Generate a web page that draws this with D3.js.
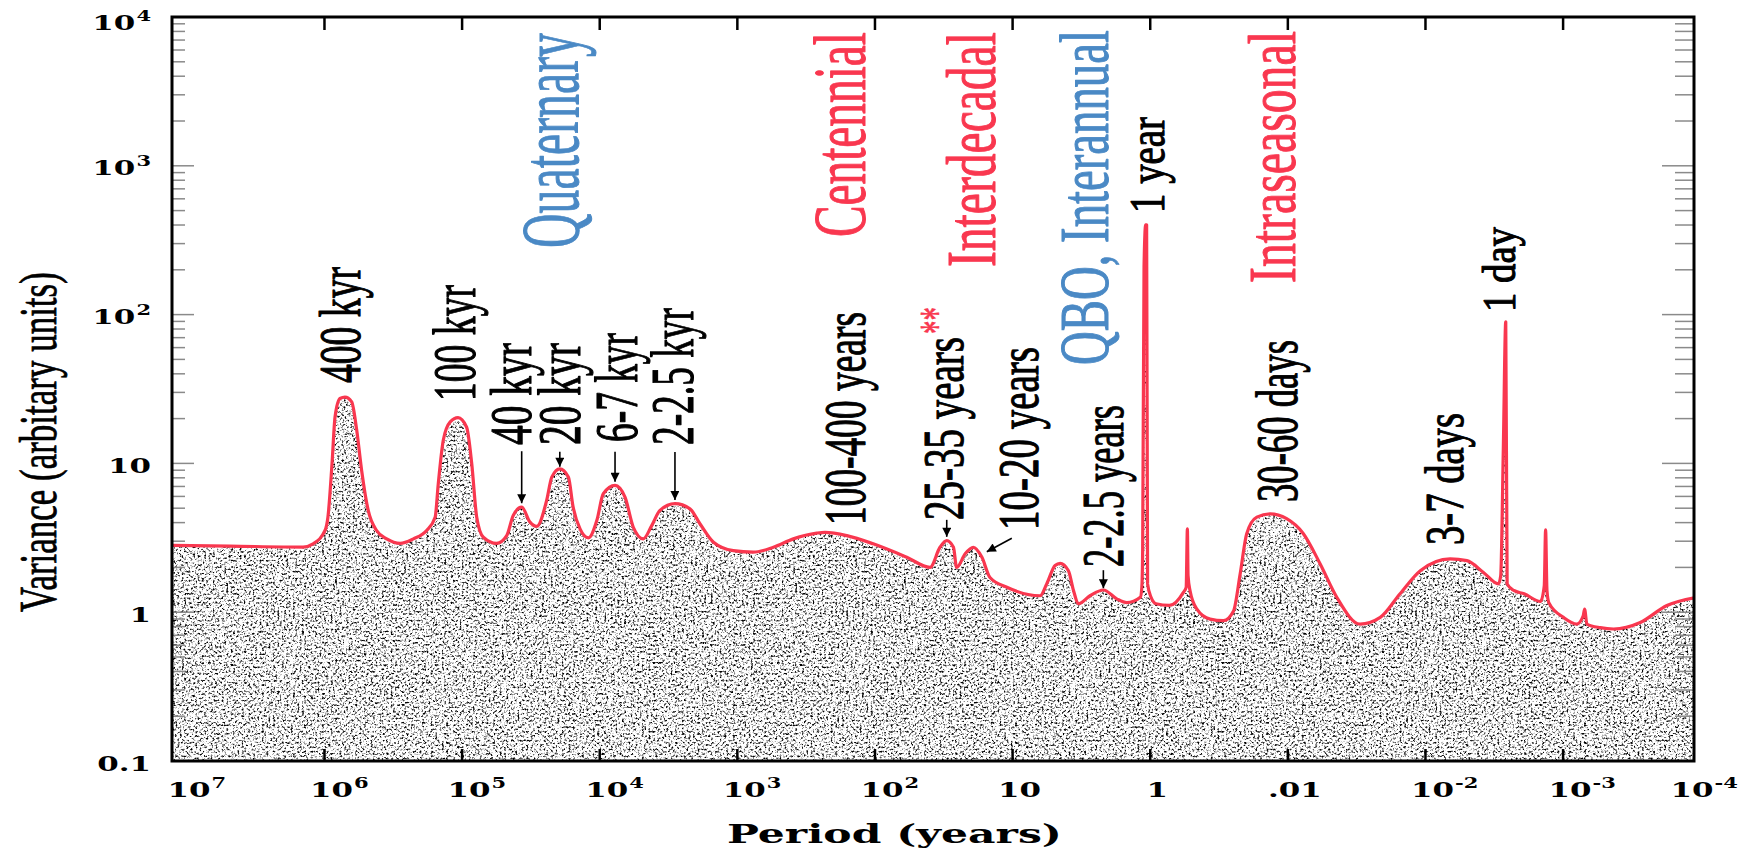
<!DOCTYPE html>
<html><head><meta charset="utf-8">
<script src="https://cdn.jsdelivr.net/npm/d3@7"></script>
<style>html,body{margin:0;padding:0;background:#fff;}svg{display:block;}</style>
</head><body>
<svg id="chart" width="1756" height="851"></svg>
<script>
// ---------------- DATA ----------------
// Spectrum (period in years, variance in arbitrary units)
const periods = [1.28e7,4.86e6,1.43e6,1.21e6,9.91e5,9.44e5,8.81e5,8.38e5,7.71e5,7.10e5,6.34e5,5.83e5,5.37e5,4.81e5,4.18e5,3.53e5,2.82e5,2.26e5,1.81e5,1.57e5,1.49e5,1.37e5,1.22e5,1.07e5,9.27e4,8.51e4,7.83e4,7.01e4,5.61e4,4.74e4,4.25e4,3.69e4,3.21e4,2.87e4,2.43e4,2.23e4,1.95e4,1.69e4,1.56e4,1.39e4,1.21e4,1.05e4,9420,7740,6550,5700,4820,4190,3650,2840,2210,1870,1490,1070,766,547,392,265,231,160,103,58.7,39.8,33.7,30.1,26.9,25.5,22.1,19.3,16.7,14.6,11.0,6.31,5.65,4.91,4.52,3.93,3.61,3.33,2.74,2.19,1.75,1.48,1.18,1.151,1.135,1.109,1.079,1.062,1.045,0.986,0.908,0.726,0.574,0.548,0.537,0.531,0.514,0.458,0.367,0.294,0.248,0.222,0.199,0.168,0.135,0.102,0.0771,0.0582,0.0441,0.0299,0.0213,0.0153,0.0109,0.00662,0.00500,0.00379,0.00295,0.00284,0.00272,0.00261,0.00255,0.00228,0.00192,0.00146,0.00137,0.00134,0.00131,0.00127,0.000993,0.000794,0.000714,0.000698,0.000671,0.000537,0.000430,0.000275,0.000176,0.000111];
const variances = [2.81,2.78,2.74,2.88,3.54,4.35,10.0,20.5,27.3,27.9,25.9,16.7,8.97,4.83,3.54,3.11,2.90,3.11,3.54,4.35,7.29,14.3,19.0,20.3,17.5,9.95,4.35,3.19,2.90,3.27,4.47,5.08,4.03,3.77,5.64,8.09,9.20,8.09,5.08,3.63,3.16,4.13,6.25,7.11,5.93,3.72,3.11,3.82,4.83,5.36,4.95,3.93,2.95,2.59,2.53,2.73,3.11,3.40,3.44,3.27,2.88,2.34,2.00,2.73,3.03,2.73,2.00,2.47,2.73,2.34,1.71,1.47,1.29,1.55,2.06,2.13,1.90,1.40,1.14,1.29,1.41,1.23,1.16,1.26,1.47,2.59,210,401,401,1.55,1.26,1.14,1.11,1.36,1.47,3.63,1.76,1.40,1.05,0.899,0.877,1.02,1.81,3.37,4.35,4.58,4.25,3.37,2.11,1.26,0.832,0.923,1.33,1.90,2.28,2.22,1.85,1.55,1.76,12.2,89.5,1.55,1.40,1.33,1.18,1.51,3.57,1.40,1.16,0.923,0.832,0.946,1.05,0.832,0.787,0.771,0.853,1.11,1.25];

const xTickValues = [1e6,1e5,1e4,1e3,1e2,10,1,0.1,0.01,0.001];
const xLabelValues = [1e7,1e6,1e5,1e4,1e3,1e2,10,1,0.1,0.01,0.001,1e-4];
const xLabelBase = ["10","10","10","10","10","10","10","1",".01","10","10","10"];
const xLabelSup  = ["7","6","5","4","3","2","","","","-2","-3","-4"];
const yLabelValues = [0.1,1,10,100,1000,10000];
const yLabelBase = ["0.1","1","10","10","10","10"];
const yLabelSup  = ["","","","2","3","4"];

const peakLabels = ["400 kyr","100 kyr","40 kyr","20 kyr","6-7 kyr","2-2.5 kyr","100-400 years","25-35 years","10-20 years","2-2.5 years","1 year","30-60 days","3-7 days","1 day"];
const regimeLabels = ["Quaternary","Centennial","Interdecadal","QBO, Interannual","Intraseasonal"];
const regimeKinds  = ["blue","red","red","blue","red"];
// arrow tips (period, variance)
const arrowPeriods   = [3.69e4,1.95e4,7740,2840,30.1,15.4,2.19];
const arrowVariances = [5.40,9.51,7.53,5.68,3.21,2.55,1.45];

// ---------------- LAYOUT / STYLE ----------------
const L=172,R=1694,T=17,B=761;
const RED="#f9374f", BLUE="#4a89c5";
const SERIF="Liberation Serif";
// [baselineX, startY, length, fontSize]
const peakLayout = [[360,383,116,60],[475,401,116,62],[531,445,102,60],[580,445,102,62],[637,442,109,62],[693,445,137,62],
  [865,525,213,60],[963,520,183,58],[1038,530,183,58],[1123,567,162,60],[1164,213,96,50],[1297,502,162,60],[1463,545,132,54],[1515,312,85,46]];
const regimeLayout = [[578,248,215,82],[865,237,205,73],[995,267,235,70],[1108,365,335,70],[1295,283,252,68]];
const arrowTail = [[0,-52],[0,-15],[0,-30],[0,-48],[0,-17],[25,-13.4],[0,-18]];

const svg = d3.select("#chart");
const x = d3.scaleLog().domain([1.282e7,1.119e-4]).range([L,R]);
const y = d3.scaleLog().domain([0.1,1e4]).range([B,T]);

const defs = svg.append("defs");
const f = defs.append("filter").attr("id","stipple").attr("filterUnits","userSpaceOnUse")
  .attr("x",L).attr("y",T).attr("width",R-L).attr("height",B-T)
  .attr("color-interpolation-filters","sRGB");
f.append("feTurbulence").attr("type","fractalNoise").attr("baseFrequency","0.45").attr("numOctaves",3).attr("seed",11).attr("result","n");
f.append("feColorMatrix").attr("in","n").attr("type","matrix")
  .attr("values","3.8 0 0 0 -0.89  3.8 0 0 0 -0.89  3.8 0 0 0 -0.89  0 0 0 0 1").attr("result","g");
f.append("feComposite").attr("in","g").attr("in2","SourceGraphic").attr("operator","in");

defs.append("clipPath").attr("id","plotclip").append("rect").attr("x",L).attr("y",T).attr("width",R-L).attr("height",B-T);
defs.append("marker").attr("id","ah").attr("markerUnits","userSpaceOnUse")
  .attr("viewBox","0 0 10 10").attr("refX",10).attr("refY",5)
  .attr("markerWidth",10).attr("markerHeight",9).attr("orient","auto")
  .append("path").attr("d","M0,0L10,5L0,10z").attr("fill","#000");

const data = periods.map((p,i)=>({p, v:variances[i]}));
const g = svg.append("g").attr("clip-path","url(#plotclip)");
const area = d3.area().x(d=>x(d.p)).y0(y(0.1)).y1(d=>y(d.v)).curve(d3.curveMonotoneX);
const line = d3.line().x(d=>x(d.p)).y(d=>y(d.v)).curve(d3.curveMonotoneX);
g.append("path").datum(data).attr("d",area).attr("fill","#000").attr("filter","url(#stipple)");

// y ticks (gray, both sides)
y.ticks().forEach(v=>{
  const major = Math.abs(Math.log10(v)-Math.round(Math.log10(v)))<1e-9;
  const yy = y(v);
  svg.append("line").attr("x1",L).attr("x2",L+(major?22:13)).attr("y1",yy).attr("y2",yy).attr("stroke","#8a8a8a").attr("stroke-width",1.5);
  svg.append("line").attr("x1",R).attr("x2",R-(major?32:19)).attr("y1",yy).attr("y2",yy).attr("stroke","#8a8a8a").attr("stroke-width",1.5);
});

g.append("path").datum(data).attr("d",line).attr("fill","none").attr("stroke",RED).attr("stroke-width",3.2).attr("stroke-linejoin","round");

// x ticks
xTickValues.forEach(v=>{
  svg.append("line").attr("x1",x(v)).attr("x2",x(v)).attr("y1",B).attr("y2",B-12).attr("stroke","#000").attr("stroke-width",2.5);
  svg.append("line").attr("x1",x(v)).attr("x2",x(v)).attr("y1",T).attr("y2",T+13).attr("stroke","#000").attr("stroke-width",2.5);
});
svg.append("rect").attr("x",L).attr("y",T).attr("width",R-L).attr("height",B-T).attr("fill","none").attr("stroke","#000").attr("stroke-width",3);

// tick labels (bold, horizontally stretched)
const SX=1.5;
function tickLabel(base, sup, cx, baseline, anchorEnd){
  const grp = svg.append("g");
  const bt = grp.append("text").attr("font-family","DejaVu Serif").attr("font-weight","bold").attr("font-size",20.6).text(base);
  const bw = bt.node().getComputedTextLength()*SX;
  let st=null, sw=0;
  if(sup){ st = grp.append("text").attr("font-family","DejaVu Serif").attr("font-weight","bold").attr("font-size",14).text(sup);
    sw = st.node().getComputedTextLength()*SX; }
  const bx = anchorEnd ? cx - (sup? sw+1:0) - bw : cx - bw/2;
  bt.attr("transform",`translate(${bx},${baseline}) scale(${SX},1)`);
  if(st) st.attr("transform",`translate(${bx+bw+1},${baseline-9}) scale(${SX},1)`);
}
xLabelValues.forEach((v,i)=>{
  let cx = x(v)+7;
  if(i===0) cx = L+17;
  if(i===xLabelValues.length-1) cx = R-2;
  tickLabel(xLabelBase[i], xLabelSup[i], cx, 797, false);
});
yLabelValues.forEach((v,i)=>{
  tickLabel(yLabelBase[i], yLabelSup[i], 151, Math.max(y(v)+9.5,30), true);
});

// axis titles
(function(){
  const t = svg.append("text").attr("font-family","DejaVu Serif").attr("font-weight","bold").attr("font-size",26).text("Period (years)");
  const w = t.node().getComputedTextLength();
  t.attr("transform",`translate(727,843) scale(${335/w},1)`);
})();
function rotText(txt, bx, by, len, size, color, sw){
  const t = svg.append("text").style("font-family",SERIF).style("font-weight","normal")
    .attr("font-size",size).attr("fill",color).attr("stroke",color).attr("stroke-width",sw===undefined?1.1:sw)
    .attr("stroke-linejoin","round").text(txt);
  const w = t.node().getComputedTextLength();
  t.attr("transform",`translate(${bx},${by}) rotate(-90) scale(${len/w},1)`);
  return t;
}
rotText("Variance (arbitary units)",55.5,612,340,52,"#000",0.8);

peakLabels.forEach((t,i)=>{ const l=peakLayout[i]; rotText(t,l[0],l[1],l[2],l[3],"#000"); });
rotText("**",953,334,27,48,RED,0.6);
regimeLabels.forEach((t,i)=>{ const l=regimeLayout[i]; rotText(t,l[0],l[1],l[2],l[3],regimeKinds[i]==="blue"?BLUE:RED,1.0); });

// arrows
arrowPeriods.forEach((p,i)=>{
  const tx=x(p), ty=y(arrowVariances[i]);
  svg.append("line").attr("x1",tx+arrowTail[i][0]).attr("y1",ty+arrowTail[i][1]).attr("x2",tx).attr("y2",ty)
    .attr("stroke","#000").attr("stroke-width",1.6).attr("marker-end","url(#ah)");
});
</script>
</body></html>
